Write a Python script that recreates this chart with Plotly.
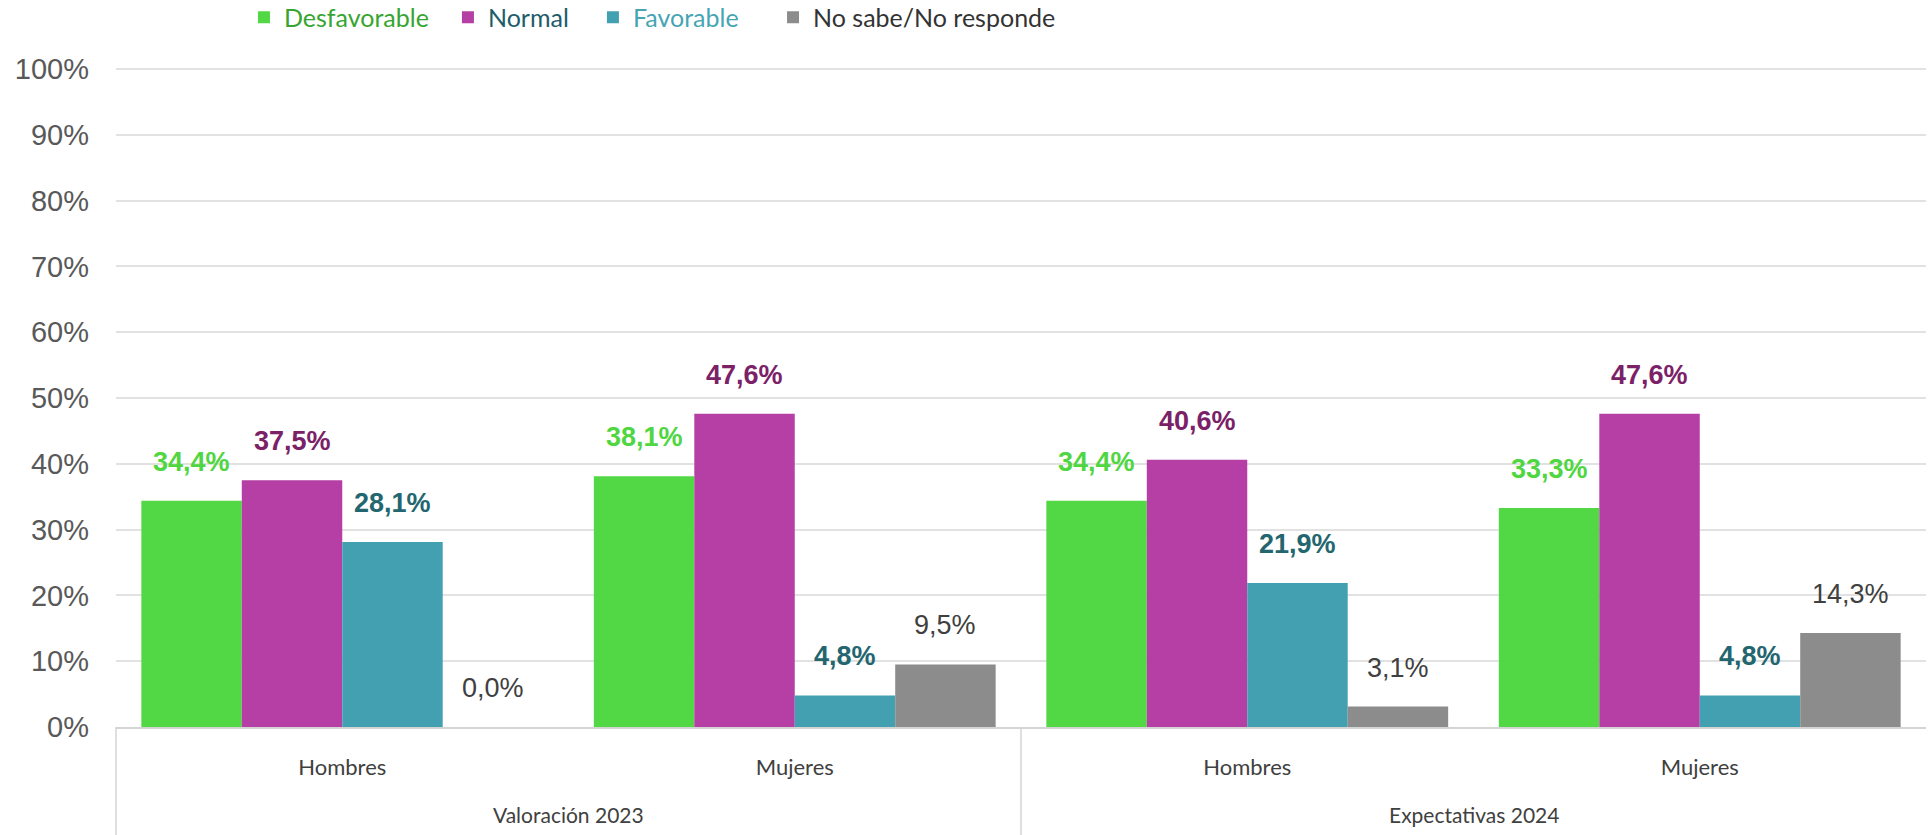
import plotly.graph_objects as go

groups = ["Valoración 2023", "Expectativas 2024"]
categories = ["Hombres", "Mujeres", "Hombres", "Mujeres"]
series_names = ["Desfavorable", "Normal", "Favorable", "No sabe/No responde"]
desfavorable = [34.4, 38.1, 34.4, 33.3]
normal = [37.5, 47.6, 40.6, 47.6]
favorable = [28.1, 4.8, 21.9, 4.8]
no_sabe = [0.0, 9.5, 3.1, 14.3]
y_ticks = [0, 10, 20, 30, 40, 50, 60, 70, 80, 90, 100]

values = [desfavorable, normal, favorable, no_sabe]
bar_colors = ["#52d844", "#b53fa5", "#42a0b1", "#8c8c8c"]
label_colors = ["#4fd641", "#7b2167", "#23666f", "#404040"]
label_bold = [True, True, True, False]
legend_colors = ["#36a531", "#1d5d6a", "#46a5b3", "#333333"]
legend_x = [0.0707, 0.1834, 0.2635, 0.3630]

BARGAP = 0.112
xs = list(range(len(categories)))
legend_ids = ["legend", "legend2", "legend3", "legend4"]

fig = go.Figure()
for j, (name, vals) in enumerate(zip(series_names, values)):
    fig.add_trace(go.Bar(
        x=xs, y=vals,
        name=f"<span style='color:{legend_colors[j]}'>{name}</span>",
        marker=dict(color=bar_colors[j], line=dict(width=0)),
        hoverinfo="skip",
        legend=legend_ids[j],
    ))

n = len(series_names)
w = (1 - BARGAP) / n
annotations = []
for j, vals in enumerate(values):
    for i, v in enumerate(vals):
        txt = f"{v:.1f}".replace(".", ",") + "%"
        if label_bold[j]:
            txt = f"<b>{txt}</b>"
        annotations.append(dict(
            x=i + (j - (n - 1) / 2) * w, y=v, xref="x", yref="y",
            text=txt, showarrow=False, yanchor="middle", yshift=39,
            font=dict(family="Liberation Sans", size=27, color=label_colors[j]),
        ))

for g, name in enumerate(groups):
    annotations.append(dict(
        x=2 * g + 0.5, y=0, xref="x", yref="paper", yanchor="middle", yshift=-87,
        text=name, showarrow=False,
        font=dict(family="Lato", size=21, color="#404040"),
    ))

shapes = []
for xp in [0, 0.5]:
    shapes.append(dict(type="line", xref="paper", yref="paper", x0=xp, x1=xp,
                       y0=0, y1=-0.2, line=dict(color="#d4d4d4", width=1.5)))

legend_layouts = {}
for j, lid in enumerate(legend_ids):
    legend_layouts[lid] = dict(
        orientation="h", x=legend_x[j], xanchor="left", y=1.075, yanchor="middle",
        font=dict(family="Lato", size=25, color="#333333"),
        itemclick=False, itemdoubleclick=False, bgcolor="rgba(0,0,0,0)",
    )

fig.update_layout(
    width=1930, height=835,
    margin=dict(l=116, r=4, t=67, b=108, autoexpand=False),
    paper_bgcolor="white", plot_bgcolor="white",
    barmode="group", bargap=BARGAP, bargroupgap=0,
    showlegend=True,
    annotations=annotations,
    shapes=shapes,
    xaxis=dict(
        range=[-0.5, len(categories) - 0.5],
        tickmode="array", tickvals=xs, ticktext=categories,
        tickfont=dict(family="Lato", size=22, color="#404040"),
        showgrid=False, zeroline=False, showline=True, linecolor="#d4d4d4", linewidth=1.5,
        ticks="", ticklabelstandoff=20,
    ),
    yaxis=dict(
        range=[0, 100.3], tickmode="array", tickvals=y_ticks,
        ticktext=[f"{t}%" for t in y_ticks],
        tickfont=dict(family="Liberation Sans", size=29, color="#595959"),
        showgrid=True, gridcolor="#e2e2e2", gridwidth=1.5,
        zeroline=False, showline=False, ticks="", ticklabelstandoff=26,
    ),
    **legend_layouts,
)

fig.write_html(
    "out.html",
    config={"displayModeBar": False},
    post_script="document.body.style.margin='0';document.body.style.overflow='hidden';",
)
